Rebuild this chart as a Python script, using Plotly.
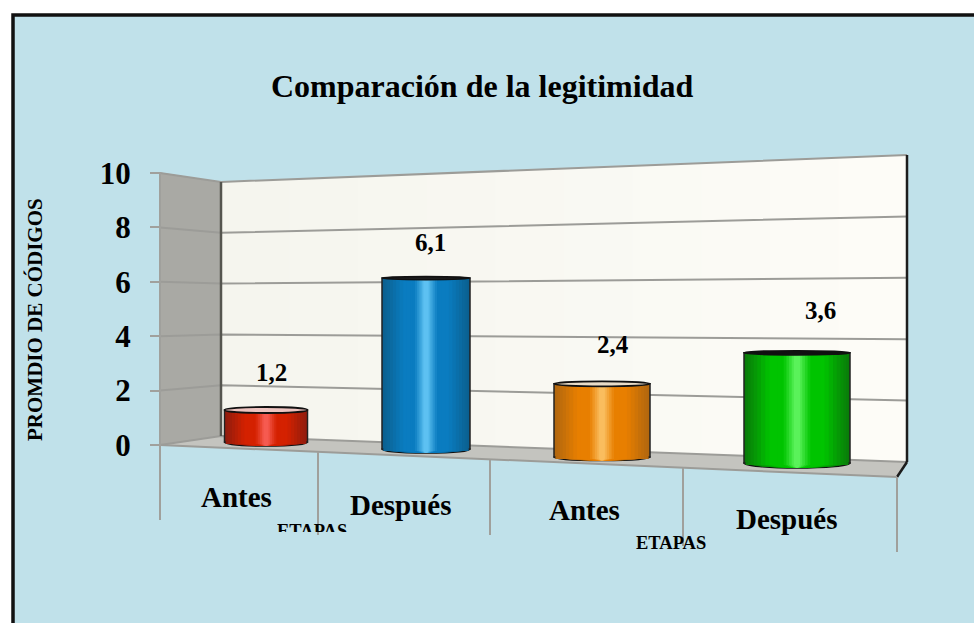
import plotly.graph_objects as go

# ---- data ----
categories = ["Antes", "Después", "Antes", "Después"]
values = [1.2, 6.1, 2.4, 3.6]
y_ticks = [0, 2, 4, 6, 8, 10]
title_text = "Comparación de la legitimidad"
y_title = "PROMDIO DE CÓDIGOS"
x_title = "ETAPAS"

# ---- layout constants (pseudo-3D projection) ----
W, H = 974, 623
Y0, UNIT = 445.0, 27.2
FONT = "Liberation Serif"
INK = "#000000"
centers = [266, 426, 602, 797]
widths = [83, 88, 96, 106]
gains = [0.98, 1.03, 1.12, 1.125]
offsets = [0.11, -0.147, -0.44, -0.66]
cap_px = [3.0, 1.5, 2.5, 2.0]
bulge_px = [4, 4, 3.5, 5]
cap_fill = ["#eec4c0", "#222222", "#e8dcc8", "#111111"]
stops = [
    ("#8f1c0e", "#d42100", "#ff6a66"),
    ("#0b5f8e", "#0a7cc0", "#74d4ff"),
    ("#b0660f", "#e87f00", "#ffce78"),
    ("#0a7a0a", "#00c400", "#72ff72"),
]
label_px = [(271, 372), (430, 242), (613, 344), (820, 310)]
cat_px = [(236, 497), (401, 505), (584, 510), (787, 519)]
sep_px = [(160, 445, 520), (318, 452, 535), (490, 460, 535), (683, 468, 546), (897, 477, 552)]


def val(py):
    return (Y0 - py) / UNIT


def px(x):
    return x / W


def py(y):
    return 1 - y / H


def path(points):
    return "M " + " L ".join(f"{px(a):.5f},{py(b):.5f}" for a, b in points) + " Z"


def mix(c1, c2, t):
    a = [int(c1[i:i + 2], 16) for i in (1, 3, 5)]
    b = [int(c2[i:i + 2], 16) for i in (1, 3, 5)]
    return "#" + "".join(f"{round(p + (q - p) * t):02x}" for p, q in zip(a, b))


def shade(s, f):
    dark, base, hi = s
    if f > 0.55:
        return mix(base, dark, (f - 0.55) / 0.45)
    if f > 0.28:
        return base
    return mix(hi, base, f / 0.28)


def back_y(x, v):
    t = (x - 221) / (907 - 221)
    return (436 - 25.4 * v) * (1 - t) + (462 - 30.7 * v) * t


shapes = []
# panel
shapes.append(dict(type="rect", xref="paper", yref="paper", x0=px(13), x1=1.02, y0=-0.02, y1=py(15),
                   fillcolor="#C0E1EA", line=dict(color="#111111", width=3.5), layer="below"))
# back wall, painted in overlapping strips for the soft gradient
n = 10
for i in range(n):
    x = 221 + (907 - 221) * i / n
    shapes.append(dict(type="path", xref="paper", yref="paper", layer="below",
                       path=path([(x, back_y(x, 10)), (907, 155), (907, 462), (x, back_y(x, 0))]),
                       fillcolor=mix("#f5f5ee", "#fdfcf7", i / (n - 1)), line=dict(width=0)))
# left wall and floor
shapes.append(dict(type="path", xref="paper", yref="paper", layer="below",
                   path=path([(160, 172.5), (221, 182), (221, 436), (160, 445)]),
                   fillcolor="#a9a9a4", line=dict(width=0)))
shapes.append(dict(type="path", xref="paper", yref="paper", layer="below",
                   path=path([(160, 445), (221, 436), (907, 462), (897, 477)]),
                   fillcolor="#c4c4bf", line=dict(width=0)))
# grid lines
for v in y_ticks:
    left = Y0 - UNIT * v
    pts = [(160, left), (221, back_y(221, v)), (907, back_y(907, v))]
    shapes.append(dict(type="path", xref="paper", yref="paper", layer="below",
                       path=path(pts).replace(" Z", ""),
                       line=dict(color="#9c9c98", width=2)))
# edges
for a, b, c, w in [((221, 182), (221, 436), "#55554f", 2.5), ((907, 155), (907, 462), "#1c1c1c", 2.5),
                   ((907, 462), (897, 477), "#1c1c1c", 2.5), ((160, 445), (897, 477), "#9c9c98", 2),
                   ((160, 172.5), (160, 445), "#a0a09c", 2)]:
    shapes.append(dict(type="line", xref="paper", yref="paper", layer="below",
                       x0=px(a[0]), y0=py(a[1]), x1=px(b[0]), y1=py(b[1]), line=dict(color=c, width=w)))
for x, a, b in sep_px:
    shapes.append(dict(type="line", xref="paper", yref="paper", layer="below",
                       x0=px(x), x1=px(x), y0=py(a), y1=py(b), line=dict(color="#a0a09c", width=2)))

fractions = [1.0, 0.97, 0.93, 0.88, 0.82, 0.75, 0.68, 0.6, 0.52, 0.44, 0.36, 0.3, 0.25, 0.2, 0.15, 0.1, 0.06]
heights = [v * g for v, g in zip(values, gains)]

# rounded bottoms, below the bars
for i in range(len(values)):
    for f in fractions:
        shapes.append(dict(type="circle", xref="x", yref="y", layer="below",
                           x0=centers[i] - widths[i] * f / 2, x1=centers[i] + widths[i] * f / 2,
                           y0=offsets[i] - bulge_px[i] / UNIT, y1=offsets[i] + bulge_px[i] / UNIT,
                           fillcolor=shade(stops[i], f),
                           line=dict(color="#111111", width=1.5) if f == 1.0 else dict(width=0)))

fig = go.Figure()
drop = 2.0 / UNIT  # inner layers run slightly lower to hide the outline's straight bottom edge
for f in fractions:
    outer = f == 1.0
    fig.add_trace(go.Bar(
        x=centers,
        y=heights if outer else [h + drop for h in heights],
        base=offsets if outer else [o - drop for o in offsets],
        width=[w * f for w in widths],
        marker=dict(color=[shade(s, f) for s in stops],
                    line=dict(color="#222222", width=1.5 if outer else 0)),
        hoverinfo="skip", showlegend=False))

# top caps, above the bars
for i in range(len(values)):
    top = offsets[i] + heights[i]
    shapes.append(dict(type="circle", xref="x", yref="y", layer="above",
                       x0=centers[i] - widths[i] / 2, x1=centers[i] + widths[i] / 2,
                       y0=top - cap_px[i] / UNIT, y1=top + cap_px[i] / UNIT,
                       fillcolor=cap_fill[i], line=dict(color="#111111", width=1.8)))

ann = []
for v, (x, y) in zip(values, label_px):
    ann.append(dict(x=x, y=val(y), xref="x", yref="y", showarrow=False, xanchor="center", yanchor="middle",
                    text=f"{v:.1f}".replace(".", ","),
                    font=dict(family=FONT, size=25, color=INK)))
for c, (x, y) in zip(categories, cat_px):
    ann.append(dict(x=x, y=val(y), xref="x", yref="y", showarrow=False, xanchor="center", yanchor="middle", text=c,
                    font=dict(family=FONT, size=29, color=INK)))
ann.append(dict(x=px(482), y=py(86), xref="paper", yref="paper", showarrow=False, xanchor="center", yanchor="middle",
                text=title_text, font=dict(family=FONT, size=32, color=INK)))
ann.append(dict(x=px(35), y=py(320), xref="paper", yref="paper", showarrow=False, xanchor="center", yanchor="middle",
                text=y_title, textangle=-90, font=dict(family=FONT, size=21, color=INK)))
ann.append(dict(x=px(312), y=py(520), xref="paper", yref="paper", xanchor="center", yanchor="top", showarrow=False,
                text=x_title, height=11, valign="top", borderpad=0,
                font=dict(family=FONT, size=18.5, color=INK)))
ann.append(dict(x=px(671), y=py(543), xref="paper", yref="paper", xanchor="center", yanchor="middle", showarrow=False,
                text=x_title, font=dict(family=FONT, size=18.5, color=INK)))
ann = [dict(a, text=f"<b>{a['text']}</b>") for a in ann]

fig.update_layout(
    width=W, height=H, margin=dict(l=0, r=0, t=0, b=0, pad=0), autosize=False,
    paper_bgcolor="#ffffff", plot_bgcolor="rgba(0,0,0,0)",
    barmode="overlay", showlegend=False, shapes=shapes, annotations=ann,
    xaxis=dict(range=[0, W], visible=False, fixedrange=True),
    yaxis=dict(range=[val(H), val(0)], anchor="free", position=160 / W, showgrid=False, zeroline=False,
               showline=False, tickmode="array", tickvals=y_ticks, ticktext=[f"<b>{t}</b>" for t in y_ticks],
               ticks="outside", ticklen=10, tickwidth=2, tickcolor="#a0a09c", ticklabelstandoff=13,
               tickfont=dict(family=FONT, size=31, color=INK), fixedrange=True),
)
fig.write_html("out.html", config=dict(displayModeBar=False),
               post_script="document.body.style.margin='0';document.body.style.overflow='hidden';")
